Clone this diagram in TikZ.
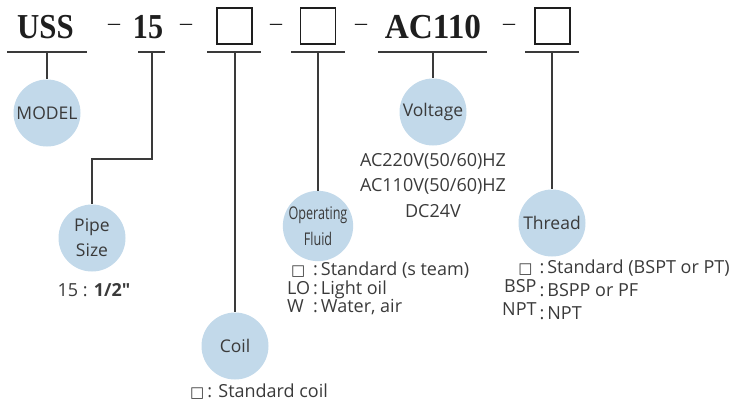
\documentclass[tikz,border=0pt]{standalone}
\usepackage{fontspec}
\setmainfont{Open Sans}
\newfontfamily\plainfont[Ligatures=TeXOff]{Open Sans}
\newfontfamily\codefont{Liberation Serif}
\newfontfamily\glyphfont{DejaVu Sans}
\usetikzlibrary{positioning}

\definecolor{bubblefill}{HTML}{C2D9EA}
\definecolor{inkgray}{HTML}{3A3A3A}
\definecolor{codeink}{HTML}{1E1E1E}

% small open square used in the option lists
\newcommand{\optsq}{{\glyphfont\fontsize{15}{15}\selectfont □}}

\begin{document}
\begin{tikzpicture}[x=1pt,y=-1pt,
    bubble/.style={circle,fill=bubblefill,minimum size=67pt,inner sep=0pt,
        align=center,text=inkgray,font=\fontsize{17.5}{25}\selectfont},
    slot/.style={draw=codeink,line width=1.6pt,minimum width=35pt,
        minimum height=36pt,inner sep=0pt},
    code/.style={anchor=base,inner sep=0pt,text=codeink,
        font=\codefont\bfseries\fontsize{35}{35}\selectfont},
    joiner/.style={anchor=base,inner sep=0pt,text=codeink,
        font=\codefont\fontsize{24}{24}\selectfont},
    lead/.style={draw=inkgray,line width=1.3pt},
    note/.style={inner sep=0pt,text=inkgray,font=\fontsize{18}{25}\selectfont}]

    \useasboundingbox (0,0) rectangle (738,402);

    % model code
    \node[code] (uss) at (45.5,38) {\scalebox{0.88}[1]{USS}};
    \node[joiner] (j1) at (114,30) {–};
    \node[code] (size) at (148,38) {\scalebox{0.86}[1]{15}};
    \node[joiner] (j2) at (186,30) {–};
    \node[slot] (coilslot) at (234.5,26) {};
    \node[joiner] (j3) at (276,30) {–};
    \node[slot] (fluidslot) at (318,26) {};
    \node[joiner] (j4) at (361,30) {–};
    \node[code] (volt) at (433,38) {\scalebox{0.95}[1]{AC110}};
    \node[joiner] (j5) at (509,30) {–};
    \node[slot] (threadslot) at (552.5,26) {};

    % underlines
    \draw[lead] (7,52) -- (87,52);
    \draw[lead] (138,52) -- (165,52);
    \draw[lead] (207,52) -- (261,52);
    \draw[lead] (291,52) -- (345,52);
    \draw[lead] (378,52) -- (487,52);
    \draw[lead] (525,52) -- (579,52);

    \coordinate (uss-foot) at (47,52);
    \coordinate (size-foot) at (152,52);
    \coordinate (coil-foot) at (235,52);
    \coordinate (fluid-foot) at (318,52);
    \coordinate (volt-foot) at (433,52);
    \coordinate (thread-foot) at (552,52);
    \coordinate (size-turn) at (92,159);

    % bubbles
    \node[bubble] (model) at (47,113) {MODEL};
    \node[bubble] (pipe) at (92,238) {Pipe\\Size};
    \node[bubble] (coil) at (235,346) {Coil};
    \node[bubble,font=\fontsize{17.5}{26}\selectfont] (fluid) at (318,226)
        {\scalebox{0.72}[1]{Operating}\\\scalebox{0.72}[1]{Fluid}};
    \node[bubble] (voltage) at (433,112) {Voltage};
    \node[bubble] (thread) at (552,223) {Thread};

    % leads
    \draw[lead] (uss-foot) -- (model);
    \draw[lead] (size-foot) |- (size-turn) -- (pipe);
    \draw[lead] (coil-foot) -- (coil);
    \draw[lead] (fluid-foot) -- (fluid);
    \draw[lead] (volt-foot) -- (voltage);
    \draw[lead] (thread-foot) -- (thread);

    % option notes
    \node[note] (pipe-note) at (94,290) {15 : {\plainfont\bfseries 1/2"}};
    \node[note,anchor=west] (coil-note) at (190,392) {\optsq\,: Standard coil};
    \node[note,align=center,font=\fontsize{18}{25.5}\selectfont] (volt-note) at (433,185.5)
        {AC220V(50/60)HZ\\AC110V(50/60)HZ\\DC24V};
    \node[note,anchor=west,font=\fontsize{18}{18}\selectfont] (fluid-note) at (287,290)
        {\begin{tabular}{@{}l@{\,:\,}l@{}}
            \hspace{4pt}\optsq & Standard (s team)\\
            LO & Light oil\\
            W & Water, air
        \end{tabular}};
    \node[note,anchor=west,font=\fontsize{18}{20.5}\selectfont] (thread-note) at (502,292.5)
        {\begin{tabular}{@{}r@{\,:\,}l@{}}
            \optsq\hspace{4pt} & Standard (BSPT or PT)\\
            \raisebox{4pt}{BSP} & BSPP or PF\\
            \raisebox{4pt}{NPT} & NPT
        \end{tabular}};

\end{tikzpicture}
\end{document}
